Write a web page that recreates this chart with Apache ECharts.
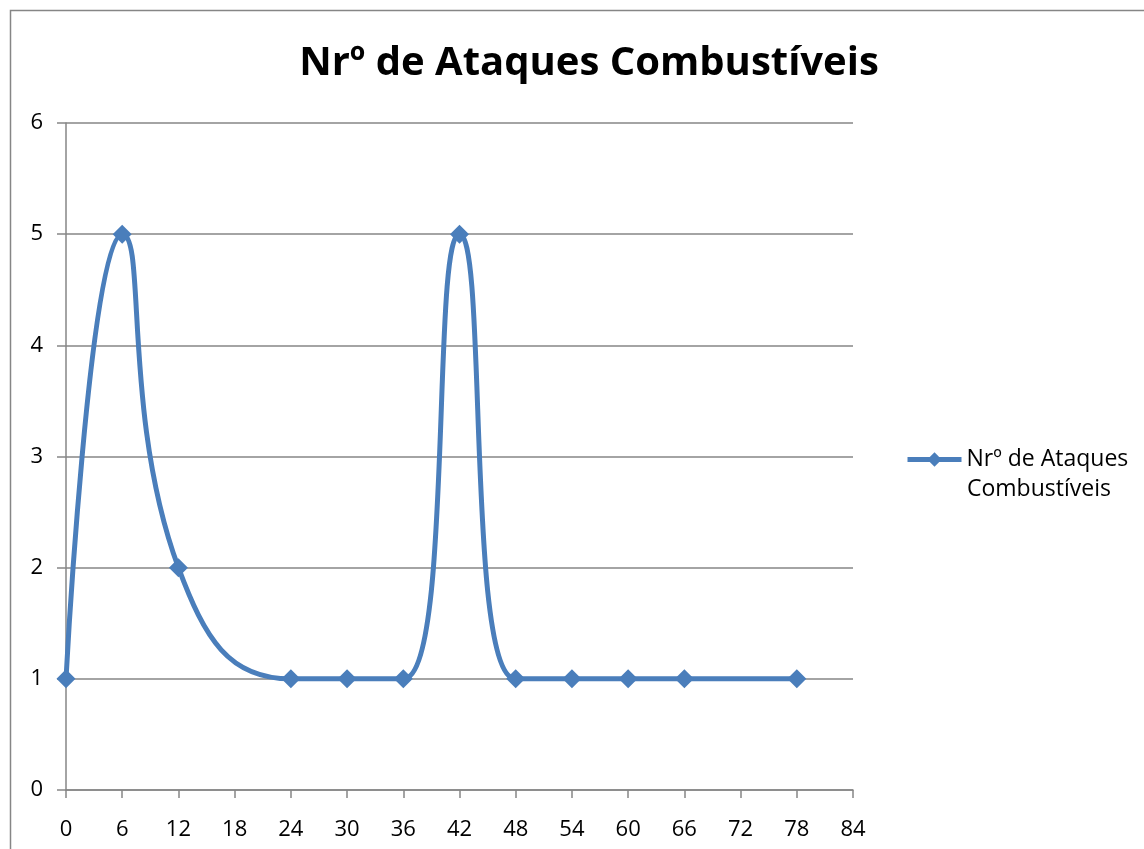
<!DOCTYPE html>
<html>
<head>
<meta charset="utf-8">
<script src="https://cdn.jsdelivr.net/npm/echarts@6/dist/echarts.min.js"></script>
<style>
  html, body { margin: 0; padding: 0; background: #fff; }
  #main { width: 1144px; height: 849px; }
</style>
</head>
<body>
<div id="main"></div>
<script>
// hours (x) and number of attacks (y)
const horas = [0, 6, 12, 24, 30, 36, 42, 48, 54, 60, 66, 78];
const ataques = [1, 5, 2, 1, 1, 1, 5, 1, 1, 1, 1, 1];
const serieNome = 'Nrº de Ataques Combustíveis';
const legendaLinhas = ['Nrº de Ataques', 'Combustíveis'];

let myChart = echarts.init(document.getElementById('main'));
const font = "'Open Sans', 'Noto Sans', sans-serif";
let option = {
  animation: false,
  title: {
    text: serieNome,
    left: 584,
    top: 39,
    textAlign: 'center',
    textStyle: { fontFamily: font, fontWeight: 'bold', fontSize: 40, color: '#000' }
  },
  graphic: [{
    type: 'rect',
    shape: { x: 10.5, y: 10.5, width: 1160, height: 860 },
    style: { fill: 'none', stroke: '#868686', lineWidth: 1.5 },
    silent: true
  }, {
    // second line of the legend label, under the first one
    type: 'text',
    left: 967,
    top: 478,
    style: { text: legendaLinhas[1], fontFamily: font, fontSize: 23, fill: '#000' },
    silent: true
  }],
  legend: {
    left: 905,
    top: 443,
    padding: 0,
    orient: 'vertical',
    itemWidth: 54,
    itemHeight: 18,
    lineStyle: { width: 5 },
    textStyle: { fontFamily: font, fontSize: 23, color: '#000', lineHeight: 33 },
    formatter: () => legendaLinhas[0],
    data: [serieNome]
  },
  grid: { left: 66, right: 291, top: 123, bottom: 59 },
  xAxis: {
    type: 'value',
    min: 0, max: 84, interval: 6,
    axisLine: { lineStyle: { color: '#868686', width: 1.5 } },
    axisTick: { show: true, length: 8, lineStyle: { color: '#868686', width: 1.5 } },
    axisLabel: { margin: 29, fontFamily: font, fontSize: 22, color: '#000' },
    splitLine: { show: false }
  },
  yAxis: {
    type: 'value',
    min: 0, max: 6, interval: 1,
    axisLine: { show: true, lineStyle: { color: '#868686', width: 1.5 } },
    axisTick: { show: true, length: 9, lineStyle: { color: '#868686', width: 1.5 } },
    axisLabel: { margin: 23, fontFamily: font, fontSize: 22, color: '#000' },
    splitLine: { show: true, lineStyle: { color: '#868686', width: 1.5 } }
  },
  series: [{
    name: serieNome,
    type: 'line',
    data: horas.map((h, i) => [h, ataques[i]]),
    smooth: 0.5,
    symbol: 'diamond',
    symbolSize: 19,
    lineStyle: { color: '#4A7EBB', width: 5 },
    itemStyle: { color: '#4A7EBB' }
  }]
};
myChart.setOption(option);
</script>
</body>
</html>
